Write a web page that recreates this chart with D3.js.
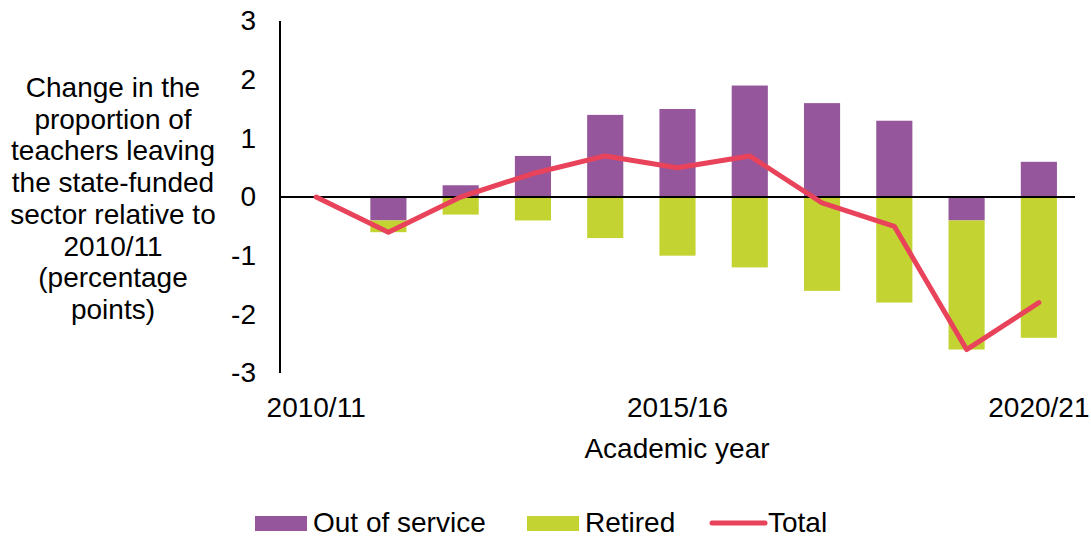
<!DOCTYPE html>
<html>
<head>
<meta charset="utf-8">
<script src="https://cdn.jsdelivr.net/npm/d3@7"></script>
<style>
  body { margin: 0; background: #fff; }
  svg { display: block; font-family: "Liberation Sans", Arial, sans-serif; }
</style>
</head>
<body>
<div id="chart"></div>
<script>
const years = ["2010/11", "2011/12", "2012/13", "2013/14", "2014/15", "2015/16",
  "2016/17", "2017/18", "2018/19", "2019/20", "2020/21"]
const outOfService = [0, -0.4, 0.2, 0.7, 1.4, 1.5, 1.9, 1.6, 1.3, -0.4, 0.6]
const retired = [0, -0.2, -0.3, -0.4, -0.7, -1.0, -1.2, -1.6, -1.8, -2.2, -2.4]
const total = [0, -0.6, 0.0, 0.4, 0.7, 0.5, 0.7, -0.1, -0.5, -2.6, -1.8]
const yTicks = [3, 2, 1, 0, -1, -2, -3]
const xTickLabels = ["2010/11", "2015/16", "2020/21"]
const yTitle = ["Change in the", "proportion of", "teachers leaving", "the state-funded",
  "sector relative to", "2010/11", "(percentage", "points)"]

const colors = {oos: "#95569b", retired: "#c3d432", total: "#e8435a"}

document.addEventListener("DOMContentLoaded", draw)

function draw(){
    const width = 1091, height = 536
    const svg = d3.select("#chart").append("svg")
        .attr("width", width)
        .attr("height", height)

    const x = d3.scaleBand()
        .domain(years)
        .range([280, 1075])
        .paddingInner(0.5)
        .paddingOuter(0.25)
    const y = d3.scaleLinear().domain([-3, 3]).range([373, 21])

    // diverging stack: retired sits under a negative out-of-service bar
    const rows = years.map((yr, i) => ({year: yr, oos: outOfService[i], retired: retired[i]}))
    const stacked = d3.stack()
        .keys(["oos", "retired"])
        .offset(d3.stackOffsetDiverging)(rows)

    svg.append("g")
        .selectAll("g")
        .data(stacked)
        .enter()
        .append("g")
        .attr("fill", d => colors[d.key])
        .selectAll("rect")
        .data(d => d)
        .enter()
        .append("rect")
        .attr("x", d => x(d.data.year))
        .attr("width", x.bandwidth())
        .attr("y", d => y(Math.max(d[0], d[1])))
        .attr("height", d => Math.abs(y(d[0]) - y(d[1])))

    // y axis line + zero line
    svg.append("line")
        .attr("x1", 280).attr("x2", 280)
        .attr("y1", y(3)).attr("y2", y(-3))
        .attr("stroke", "#000").attr("stroke-width", 2)
    svg.append("line")
        .attr("x1", 280).attr("x2", 1075)
        .attr("y1", y(0)).attr("y2", y(0))
        .attr("stroke", "#000").attr("stroke-width", 2)

    const yAxis = d3.axisLeft(y).tickValues(yTicks).tickSize(0).tickPadding(24)
        .tickFormat(d => d < 0 ? "-" + Math.abs(d) : d)
    const ya = svg.append("g").attr("transform", "translate(280,0)").call(yAxis)
    ya.select(".domain").remove()
    ya.selectAll("text").attr("font-size", 28).attr("fill", "#000")
        .attr("font-family", "Liberation Sans, Arial, sans-serif")

    const xAxis = d3.axisBottom(x).tickValues(xTickLabels).tickSize(0).tickPadding(0)
    const xa = svg.append("g").attr("transform", "translate(0,393)").call(xAxis)
    xa.select(".domain").remove()
    xa.selectAll("text").attr("font-size", 28).attr("fill", "#000").attr("dy", "0.85em")
        .attr("font-family", "Liberation Sans, Arial, sans-serif")

    const line = d3.line()
        .x((d, i) => x(years[i]) + x.bandwidth() / 2)
        .y(d => y(d))
    svg.append("path")
        .datum(total)
        .attr("d", line)
        .attr("fill", "none")
        .attr("stroke", colors.total)
        .attr("stroke-width", 5)
        .attr("stroke-linejoin", "round")
        .attr("stroke-linecap", "round")

    svg.append("text")
        .attr("x", 677).attr("y", 458)
        .attr("text-anchor", "middle")
        .attr("font-size", 28)
        .text("Academic year")

    const title = svg.append("text")
        .attr("text-anchor", "middle")
        .attr("font-size", 28)
    yTitle.forEach((t, i) => {
        title.append("tspan").attr("x", 113).attr("y", 97 + i * 31.7).text(t)
    })

    // legend
    const legend = svg.append("g").attr("font-size", 28)
    const items = [
        {label: "Out of service", type: "rect", color: colors.oos, x: 255},
        {label: "Retired", type: "rect", color: colors.retired, x: 527},
        {label: "Total", type: "line", color: colors.total, x: 710}
    ]
    items.forEach(it => {
        if (it.type == "rect") {
            legend.append("rect").attr("x", it.x).attr("y", 516)
                .attr("width", 52).attr("height", 15).attr("fill", it.color)
        } else {
            legend.append("line").attr("x1", it.x + 2).attr("x2", it.x + 55)
                .attr("y1", 523).attr("y2", 523)
                .attr("stroke", it.color).attr("stroke-width", 5)
                .attr("stroke-linecap", "round")
        }
        legend.append("text").attr("x", it.x + 58).attr("y", 532).text(it.label)
    })
}
</script>
</body>
</html>
